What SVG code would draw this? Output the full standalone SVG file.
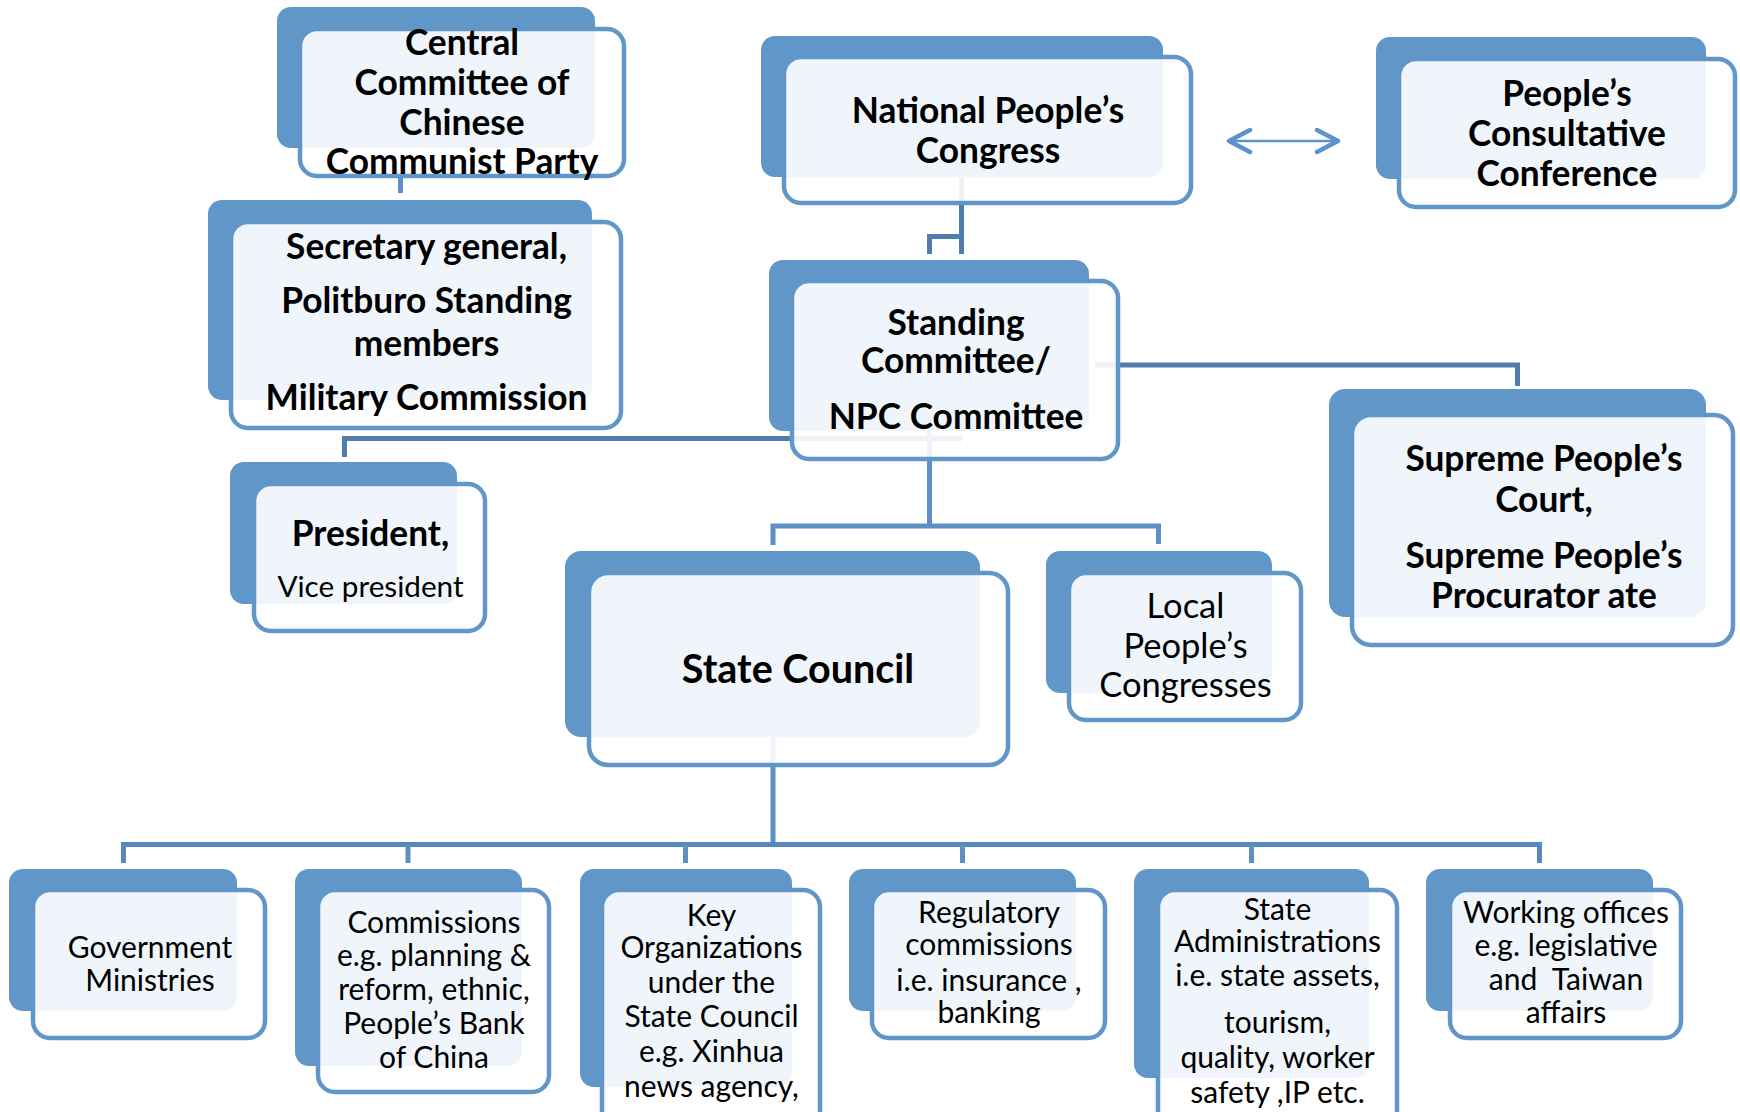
<svg xmlns="http://www.w3.org/2000/svg" width="1740" height="1112" viewBox="0 0 1740 1112">
<style>
.bk{fill:#6196C9}
.fr{fill:#ffffff;fill-opacity:0.9;stroke:#6196C9;stroke-width:4.5}
.tb{font-family:Lato,"Open Sans",sans-serif;font-weight:700;text-anchor:middle;fill:#000;font-size:35.3px}
.tr{font-family:Lato,"Open Sans",sans-serif;font-weight:400;text-anchor:middle;fill:#000;font-size:30px}
.cd{stroke:#4F7EAE;stroke-width:5;fill:none}
.cl{stroke:#5B8FC5;stroke-width:5;fill:none}
.cb{stroke:#5788BD;stroke-width:5;fill:none}
.ar{stroke:#5B93CB;fill:none;stroke-linecap:round;stroke-linejoin:round}
</style>
<rect width="1740" height="1112" fill="#ffffff"/>
<g id="connectors">
  <path class="cl" d="M400.5,170 V193"/>
  <path class="cd" d="M961.5,175 V254 M961.5,236.5 H929.5 V254"/>
  <path class="cd" d="M963,438.5 H344.5 V457"/>
  <path class="cd" d="M1095,365 H1517.5 V386"/>
  <path class="cl" d="M929.5,430 V526 M773,545 V526 H1158.5 V544"/>
  <path class="cl" d="M773,735 V844.5"/>
  <path class="cb" d="M123.5,863 V844.5 H1539.5 V863"/>
  <path class="cl" d="M408,844.5 V863 M685.5,844.5 V863 M962.5,844.5 V863 M1251.5,844.5 V863"/>
  <g id="npc-pcc-arrow" class="ar">
    <path d="M1231,141 H1336" stroke-width="2.5"/>
    <path d="M1250,130 L1229,141 L1250,152 M1317,130 L1338,141 L1317,152" stroke-width="4.5"/>
  </g>
</g>
<g id="central-committee">
  <rect class="bk" x="277" y="7" width="318" height="141" rx="14"/>
  <rect class="fr" x="300" y="29" width="324" height="147" rx="17"/>
  <text class="tb"><tspan x="462" y="55">Central</tspan><tspan x="462" y="95">Committee of</tspan><tspan x="462" y="135">Chinese</tspan><tspan x="462" y="174">Communist Party</tspan></text>
</g>
<g id="secretary-general">
  <rect class="bk" x="208" y="200" width="384" height="200" rx="14"/>
  <rect class="fr" x="231" y="222" width="390" height="206" rx="17"/>
  <text class="tb"><tspan x="426.5" y="259">Secretary general,</tspan><tspan x="426.5" y="313">Politburo Standing</tspan><tspan x="426.5" y="356">members</tspan><tspan x="426.5" y="410">Military Commission</tspan></text>
</g>
<g id="national-peoples-congress">
  <rect class="bk" x="761" y="36" width="402" height="141" rx="14"/>
  <rect class="fr" x="784" y="57" width="407" height="146" rx="17"/>
  <text class="tb"><tspan x="988" y="123">National People’s</tspan><tspan x="988" y="163">Congress</tspan></text>
</g>
<g id="peoples-consultative-conference">
  <rect class="bk" x="1376" y="37" width="330" height="142" rx="14"/>
  <rect class="fr" x="1399" y="59" width="336" height="148" rx="17"/>
  <text class="tb"><tspan x="1567" y="106">People’s</tspan><tspan x="1567" y="146">Consultative</tspan><tspan x="1567" y="186">Conference</tspan></text>
</g>
<g id="standing-committee">
  <rect class="bk" x="769" y="260" width="320" height="171" rx="14"/>
  <rect class="fr" x="792" y="281" width="326" height="178" rx="17"/>
  <text class="tb"><tspan x="956" y="335">Standing</tspan><tspan x="956" y="373">Committee/</tspan><tspan x="956" y="429">NPC Committee</tspan></text>
</g>
<g id="supreme-court">
  <rect class="bk" x="1329" y="389" width="377" height="228" rx="16"/>
  <rect class="fr" x="1352" y="415" width="381" height="230" rx="19"/>
  <text class="tb"><tspan x="1544" y="471">Supreme People’s</tspan><tspan x="1544" y="512">Court,</tspan><tspan x="1544" y="568">Supreme People’s</tspan><tspan x="1544" y="608">Procurator ate</tspan></text>
</g>
<g id="president">
  <rect class="bk" x="230" y="462" width="227" height="142" rx="14"/>
  <rect class="fr" x="254" y="484" width="231" height="147" rx="17"/>
  <text class="tb" x="370.5" y="546">President,</text>
  <text class="tr" style="font-size:29.7px" x="370.5" y="597">Vice president</text>
</g>
<g id="state-council">
  <rect class="bk" x="565" y="551" width="415" height="186" rx="16"/>
  <rect class="fr" x="589" y="573" width="419" height="192" rx="19"/>
  <text class="tb" style="font-size:39.5px" x="798" y="683">State Council</text>
</g>
<g id="local-peoples-congresses">
  <rect class="bk" x="1046" y="551" width="226" height="142" rx="14"/>
  <rect class="fr" x="1069" y="573" width="232" height="147" rx="17"/>
  <text class="tr" style="font-size:34.5px"><tspan x="1185.5" y="618">Local</tspan><tspan x="1185.5" y="658">People’s</tspan><tspan x="1185.5" y="697">Congresses</tspan></text>
</g>
<g id="government-ministries">
  <rect class="bk" x="9" y="869" width="228" height="142" rx="14"/>
  <rect class="fr" x="33" y="890" width="232" height="148" rx="17"/>
  <text class="tr"><tspan x="150" y="958">Government</tspan><tspan x="150" y="991">Ministries</tspan></text>
</g>
<g id="commissions">
  <rect class="bk" x="295" y="869" width="227" height="197" rx="14"/>
  <rect class="fr" x="318" y="890" width="231" height="202" rx="17"/>
  <text class="tr"><tspan x="434" y="933">Commissions</tspan><tspan x="434" y="966">e.g. planning &amp;</tspan><tspan x="434" y="1000">reform, ethnic,</tspan><tspan x="434" y="1034">People’s Bank</tspan><tspan x="434" y="1068">of China</tspan></text>
</g>
<g id="key-organizations">
  <rect class="bk" x="580" y="869" width="212" height="218" rx="14"/>
  <rect class="fr" x="602" y="890" width="218" height="240" rx="17"/>
  <text class="tr"><tspan x="711.5" y="926">Key</tspan><tspan x="711.5" y="958">Organizations</tspan><tspan x="711.5" y="993">under the</tspan><tspan x="711.5" y="1027">State Council</tspan><tspan x="711.5" y="1062">e.g. Xinhua</tspan><tspan x="711.5" y="1097">news agency,</tspan></text>
</g>
<g id="regulatory-commissions">
  <rect class="bk" x="849" y="869" width="227" height="142" rx="14"/>
  <rect class="fr" x="872" y="890" width="233" height="148" rx="17"/>
  <text class="tr"><tspan x="989" y="923">Regulatory</tspan><tspan x="989" y="955">commissions</tspan><tspan x="989" y="991">i.e. insurance ,</tspan><tspan x="989" y="1023">banking</tspan></text>
</g>
<g id="state-administrations">
  <rect class="bk" x="1134" y="869" width="235" height="209" rx="14"/>
  <rect class="fr" x="1158" y="890" width="239" height="240" rx="17"/>
  <text class="tr"><tspan x="1277.5" y="920">State</tspan><tspan x="1277.5" y="952">Administrations</tspan><tspan x="1277.5" y="986">i.e. state assets,</tspan><tspan x="1277.5" y="1033">tourism,</tspan><tspan x="1277.5" y="1068">quality, worker</tspan><tspan x="1277.5" y="1103">safety ,IP etc.</tspan></text>
</g>
<g id="working-offices">
  <rect class="bk" x="1426" y="869" width="227" height="142" rx="14"/>
  <rect class="fr" x="1450" y="890" width="231" height="148" rx="17"/>
  <text class="tr" xml:space="preserve"><tspan x="1566" y="923">Working offices</tspan><tspan x="1566" y="956">e.g. legislative</tspan><tspan x="1566" y="990">and  Taiwan</tspan><tspan x="1566" y="1023">affairs</tspan></text>
</g>
</svg>
